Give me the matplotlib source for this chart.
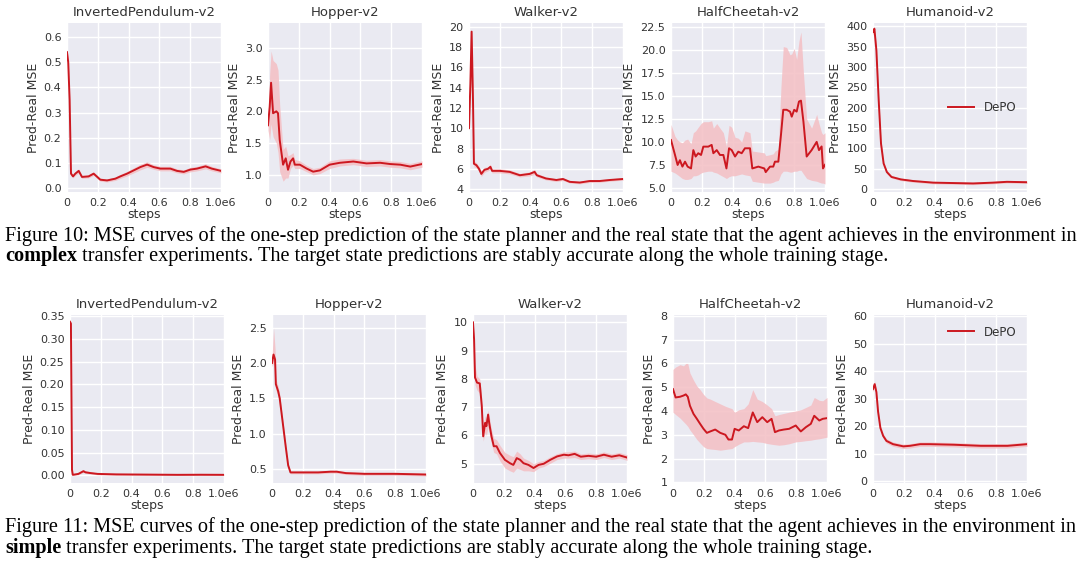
import matplotlib
matplotlib.use("Agg")
import matplotlib.pyplot as plt
from matplotlib.ticker import FormatStrFormatter

W, H = 1080, 569
DPI = 100

# ---------------- data (steps in units of 1e6) ----------------
titles = ["InvertedPendulum-v2", "Hopper-v2", "Walker-v2", "HalfCheetah-v2", "Humanoid-v2"]
x_tick_vals = [0, 0.2, 0.4, 0.6, 0.8, 1.0]
x_tick_labels = ["0", "0.2", "0.4", "0.6", "0.8", "1.0e6"]
legend_label = "DePO"

# ---- Figure 10 (complex) ----
c_ip_x = [0, .008, .017, .026, .039, .054, .076, .097, .14, .173, .216, .26, .314, .346, .39, .433, .476, .52, .563, .606, .671, .714, .758, .80, .844, .90, .94, 1.0]
c_ip_y = [.54, .50, .35, .057, .046, .057, .068, .044, .046, .057, .033, .030, .037, .046, .057, .070, .083, .093, .083, .077, .077, .068, .064, .073, .077, .086, .077, .068]
c_ip_lo = [.52, .48, .33, .050, .040, .050, .060, .038, .040, .050, .027, .024, .030, .038, .048, .060, .072, .082, .074, .068, .068, .060, .056, .064, .068, .076, .068, .060]
c_ip_hi = [.55, .52, .37, .064, .053, .064, .076, .050, .052, .064, .039, .036, .044, .054, .066, .080, .094, .104, .092, .086, .086, .076, .072, .082, .086, .096, .086, .076]

c_hop_x = [0, .011, .02, .033, .054, .065, .076, .098, .115, .13, .146, .163, .174, .207, .25, .293, .337, .40, .467, .554, .64, .728, .793, .859, .924, 1.0]
c_hop_y = [1.78, 2.07, 2.45, 1.97, 2.0, 1.97, 1.55, 1.16, 1.26, 1.08, 1.21, 1.26, 1.16, 1.16, 1.10, 1.05, 1.07, 1.16, 1.19, 1.21, 1.18, 1.19, 1.17, 1.16, 1.13, 1.17]
c_hop_lo = [1.70, 1.55, 1.80, 1.60, 1.50, 1.35, 1.05, 0.90, 0.95, 0.95, 1.10, 1.15, 1.10, 1.10, 1.05, 1.00, 1.02, 1.10, 1.14, 1.16, 1.13, 1.14, 1.12, 1.11, 1.08, 1.12]
c_hop_hi = [1.86, 2.60, 2.95, 2.80, 2.75, 2.65, 2.10, 1.40, 1.45, 1.30, 1.32, 1.35, 1.24, 1.22, 1.15, 1.10, 1.12, 1.22, 1.25, 1.26, 1.23, 1.24, 1.22, 1.21, 1.18, 1.22]

c_wal_x = [0, .009, .017, .026, .032, .048, .065, .08, .10, .123, .139, .15, .2, .264, .33, .394, .426, .44, .5, .567, .61, .654, .719, .784, .848, .913, 1.0]
c_wal_y = [10.0, 14.4, 19.5, 12.7, 6.5, 6.36, 6.0, 5.5, 5.9, 6.0, 6.2, 5.8, 5.8, 5.7, 5.37, 5.5, 5.7, 5.37, 5.05, 4.9, 5.0, 4.72, 4.65, 4.8, 4.8, 4.9, 5.0]
c_wal_lo = [9.7, 14.0, 19.1, 12.3, 6.2, 6.1, 5.75, 5.25, 5.65, 5.8, 5.95, 5.6, 5.6, 5.5, 5.2, 5.3, 5.45, 5.2, 4.9, 4.75, 4.85, 4.6, 4.52, 4.66, 4.68, 4.78, 4.88]
c_wal_hi = [10.3, 14.8, 19.8, 13.1, 6.8, 6.6, 6.25, 5.75, 6.15, 6.2, 6.45, 6.0, 6.0, 5.9, 5.55, 5.7, 5.95, 5.55, 5.2, 5.05, 5.15, 4.85, 4.78, 4.94, 4.92, 5.02, 5.12]

c_hc_x = [0, .026, .043, .058, .074, .091, .108, .13, .145, .16, .177, .195, .21, .242, .264, .275, .297, .318, .34, .36, .377, .394, .416, .437, .459, .48, .513, .528, .567, .606, .615, .643, .664, .675, .697, .714, .729, .751, .773, .784, .80, .816, .831, .844, .86, .881, .913, .946, .961, .978, .987, 1.0]
c_hc_y = [10.2, 8.57, 7.48, 8.0, 7.3, 7.84, 7.3, 7.1, 9.1, 8.4, 8.76, 8.57, 9.48, 9.48, 9.67, 8.76, 9.1, 8.57, 8.57, 7.1, 9.3, 9.1, 8.4, 8.93, 8.76, 9.3, 9.3, 7.1, 7.3, 7.1, 6.7, 7.3, 7.3, 7.84, 7.84, 10.75, 13.5, 13.5, 13.3, 12.75, 13.5, 13.3, 14.4, 14.5, 12.2, 8.4, 9.1, 10.0, 9.1, 9.5, 7.1, 7.5]
c_hc_lo = [6.8, 6.6, 6.4, 6.2, 6.0, 5.9, 5.9, 6.0, 6.3, 6.3, 6.4, 6.6, 6.7, 6.8, 6.8, 6.7, 6.6, 6.4, 6.2, 6.0, 6.2, 6.3, 6.3, 6.4, 6.5, 6.4, 6.3, 5.7, 5.6, 5.5, 5.5, 5.5, 5.6, 5.7, 5.8, 6.5, 6.8, 6.8, 6.7, 6.7, 6.8, 6.8, 6.9, 6.9, 6.5, 6.0, 5.8, 5.7, 5.6, 5.5, 5.5, 5.4]
c_hc_hi = [11.9, 10.6, 10.2, 10.0, 9.9, 10.2, 10.3, 9.8, 11.0, 11.2, 11.6, 12.0, 12.2, 12.2, 12.3, 11.5, 12.0, 11.5, 11.0, 9.5, 11.8, 11.6, 10.5, 10.4, 10.0, 11.2, 11.0, 9.0, 8.9, 8.8, 8.5, 8.6, 8.7, 9.0, 9.2, 16.0, 20.4, 20.3, 19.5, 19.6, 20.2, 19.0, 21.0, 22.0, 17.5, 12.5, 11.5, 13.0, 12.0, 11.0, 10.8, 11.0]

c_hum_x = [0, .009, .022, .037, .052, .069, .09, .12, .18, .26, .39, .52, .65, .78, .87, 1.0]
c_hum_y = [386, 394, 341, 218, 112, 63, 42, 30, 24, 20, 16, 15, 14, 16, 18, 17]
c_hum_lo = [378, 386, 332, 210, 106, 58, 38, 27, 21, 17, 13, 12, 11, 13, 15, 14]
c_hum_hi = [392, 400, 350, 226, 118, 68, 46, 33, 27, 23, 19, 18, 17, 19, 21, 20]

# ---- Figure 11 (simple) ----
s_ip_x = [0, .006, .013, .018, .054, .087, .10, .13, .18, .3, .5, .7, .85, 1.0]
s_ip_y = [.338, .334, .012, .001, .003, .009, .0066, .005, .003, .002, .0015, .001, .0012, .001]
s_ip_lo = [.332, .328, .008, .000, .001, .006, .004, .003, .001, .000, .000, .000, .000, .000]
s_ip_hi = [.342, .338, .018, .003, .005, .013, .010, .008, .005, .004, .003, .003, .003, .003]

s_hop_x = [0, .01, .02, .025, .04, .05, .07, .09, .105, .12, .2, .3, .38, .42, .48, .6, .8, 1.0]
s_hop_y = [2.0, 2.12, 2.05, 1.7, 1.6, 1.5, 1.15, 0.8, 0.55, 0.45, 0.45, 0.45, 0.46, 0.46, 0.44, 0.43, 0.43, 0.42]
s_hop_lo = [1.95, 2.0, 1.95, 1.62, 1.53, 1.44, 1.1, 0.76, 0.52, 0.43, 0.43, 0.43, 0.44, 0.44, 0.42, 0.41, 0.41, 0.40]
s_hop_hi = [2.05, 2.5, 2.2, 1.78, 1.67, 1.56, 1.2, 0.84, 0.58, 0.47, 0.47, 0.47, 0.48, 0.48, 0.46, 0.45, 0.45, 0.44]

s_wal_x = [0, .007, .013, .026, .044, .057, .066, .079, .087, .098, .105, .12, .135, .153, .175, .207, .24, .262, .284, .306, .328, .36, .393, .426, .459, .502, .546, .59, .62, .66, .7, .75, .8, .85, .9, .95, 1.0]
s_wal_y = [10.0, 9.4, 8.05, 7.87, 7.84, 7.04, 5.97, 6.45, 6.33, 6.74, 6.45, 5.97, 5.62, 5.62, 5.38, 5.14, 5.02, 4.96, 5.2, 5.14, 5.02, 4.96, 4.85, 4.96, 5.0, 5.14, 5.26, 5.32, 5.3, 5.35, 5.25, 5.28, 5.25, 5.32, 5.25, 5.3, 5.22]
s_wal_lo = [9.9, 9.0, 7.8, 7.6, 7.5, 6.7, 5.8, 6.1, 6.0, 6.3, 6.1, 5.7, 5.4, 5.35, 5.1, 4.85, 4.75, 4.7, 4.85, 4.8, 4.75, 4.75, 4.72, 4.85, 4.9, 5.02, 5.15, 5.2, 5.2, 5.22, 5.15, 5.18, 5.15, 5.22, 5.15, 5.2, 5.12]
s_wal_hi = [10.05, 9.6, 8.5, 8.1, 8.0, 7.3, 6.3, 6.7, 6.6, 6.9, 6.7, 6.2, 5.9, 5.85, 5.65, 5.4, 5.3, 5.25, 5.45, 5.35, 5.2, 5.12, 5.0, 5.08, 5.12, 5.25, 5.36, 5.42, 5.42, 5.45, 5.35, 5.38, 5.35, 5.42, 5.35, 5.4, 5.32]

s_hc_x = [0, .017, .046, .068, .083, .096, .11, .133, .155, .176, .198, .22, .242, .274, .307, .34, .36, .383, .40, .427, .46, .488, .518, .547, .58, .612, .64, .662, .688, .72, .754, .797, .83, .863, .895, .917, .95, .972, 1.0]
s_hc_y = [4.92, 4.57, 4.6, 4.65, 4.7, 4.6, 4.22, 3.88, 3.67, 3.46, 3.25, 3.08, 3.14, 3.22, 3.08, 3.0, 2.8, 2.8, 3.25, 3.18, 3.36, 3.28, 3.94, 3.53, 3.74, 3.53, 3.67, 3.11, 3.18, 3.22, 3.25, 3.39, 3.14, 3.32, 3.46, 3.8, 3.6, 3.67, 3.7]
s_hc_lo = [3.95, 3.85, 3.7, 3.55, 3.45, 3.35, 3.2, 3.0, 2.8, 2.65, 2.5, 2.42, 2.4, 2.38, 2.35, 2.38, 2.4, 2.42, 2.5, 2.6, 2.7, 2.7, 2.72, 2.7, 2.68, 2.63, 2.6, 2.58, 2.56, 2.58, 2.62, 2.7, 2.72, 2.75, 2.77, 2.8, 2.83, 2.86, 2.9]
s_hc_hi = [5.75, 5.85, 5.95, 5.9, 6.0, 6.0, 5.6, 5.3, 5.05, 4.9, 4.7, 4.55, 4.5, 4.4, 4.3, 4.2, 4.15, 4.1, 3.95, 4.05, 4.1, 4.3, 4.9, 4.5, 4.4, 4.25, 4.1, 3.8, 3.85, 3.9, 3.95, 4.0, 4.05, 4.15, 4.25, 4.57, 4.45, 4.43, 4.57]

s_hum_x = [0, .011, .022, .033, .048, .066, .087, .13, .197, .24, .306, .37, .524, .7, .873, 1.0]
s_hum_y = [33.5, 35.3, 32.4, 25.3, 19.4, 16.5, 14.7, 13.5, 12.7, 12.9, 13.5, 13.5, 13.3, 12.9, 12.9, 13.5]
s_hum_lo = [32.5, 34.3, 31.4, 24.4, 18.6, 15.7, 13.9, 12.7, 11.9, 12.1, 12.7, 12.7, 12.5, 12.1, 12.1, 12.7]
s_hum_hi = [34.5, 36.3, 33.4, 26.2, 20.2, 17.3, 15.5, 14.3, 13.5, 13.7, 14.3, 14.3, 14.1, 13.7, 13.7, 14.3]

complex_series = [(c_ip_x, c_ip_y, c_ip_lo, c_ip_hi), (c_hop_x, c_hop_y, c_hop_lo, c_hop_hi),
                  (c_wal_x, c_wal_y, c_wal_lo, c_wal_hi), (c_hc_x, c_hc_y, c_hc_lo, c_hc_hi),
                  (c_hum_x, c_hum_y, c_hum_lo, c_hum_hi)]
simple_series = [(s_ip_x, s_ip_y, s_ip_lo, s_ip_hi), (s_hop_x, s_hop_y, s_hop_lo, s_hop_hi),
                 (s_wal_x, s_wal_y, s_wal_lo, s_wal_hi), (s_hc_x, s_hc_y, s_hc_lo, s_hc_hi),
                 (s_hum_x, s_hum_y, s_hum_lo, s_hum_hi)]

complex_yticks = [[0, .1, .2, .3, .4, .5, .6], [1.0, 1.5, 2.0, 2.5, 3.0], [4, 6, 8, 10, 12, 14, 16, 18, 20],
                  [5, 7.5, 10, 12.5, 15, 17.5, 20, 22.5], [0, 50, 100, 150, 200, 250, 300, 350, 400]]
simple_yticks = [[0, .05, .1, .15, .2, .25, .3, .35], [0.5, 1.0, 1.5, 2.0, 2.5], [5, 6, 7, 8, 9, 10],
                 [1, 2, 3, 4, 5, 6, 7, 8], [0, 10, 20, 30, 40, 50, 60]]

caption10_l1 = "Figure 10: MSE curves of the one-step prediction of the state planner and the real state that the agent achieves in the environment in"
caption10_bold = "complex"
caption10_l2 = " transfer experiments. The target state predictions are stably accurate along the whole training stage."
caption11_l1 = "Figure 11: MSE curves of the one-step prediction of the state planner and the real state that the agent achieves in the environment in"
caption11_bold = "simple"
caption11_l2 = " transfer experiments. The target state predictions are stably accurate along the whole training stage."

# ---------------- layout / style ----------------
complex_ylim = [(-0.016, 0.656), (0.73, 3.39), (3.72, 20.35), (4.53, 22.97), (-7, 408)]
simple_ylim = [(-0.017, 0.353), (0.3, 2.68), (4.32, 10.26), (0.97, 8.04), (-0.6, 60.4)]
complex_fmt = ["%.1f", "%.1f", "%d", "%.1f", "%d"]
simple_fmt = ["%.2f", "%.1f", "%d", "%d", "%d"]

row1_left = [67, 268, 469, 671, 873]
row2_left = [70, 272, 473, 673, 873]
ax_w = 154
row1_top, row1_bot = 23, 192
row2_top, row2_bot = 315, 483

LINE = "#cc1820"
BAND = "#f4bfc4"
BG = "#eaeaf2"
TXT = "#333333"

plt.rcParams["font.family"] = ["DejaVu Sans"]
fig = plt.figure(figsize=(W / DPI, H / DPI), dpi=DPI)
fig.patch.set_facecolor("white")


def make_ax(left, top, bot):
    return fig.add_axes([left / W, 1 - bot / H, ax_w / W, (bot - top) / H])


def draw_row(lefts, top, bot, series, yticks, ylims, fmts, legend_loc):
    for i, (sx, sy, slo, shi) in enumerate(series):
        ax = make_ax(lefts[i], top, bot)
        ax.set_facecolor(BG)
        ax.grid(True, color="white", linewidth=1.0)
        ax.set_axisbelow(True)
        for sp in ax.spines.values():
            sp.set_visible(False)
        ax.fill_between(sx, slo, shi, color=BAND, alpha=0.85, linewidth=0)
        ax.plot(sx, sy, color=LINE, linewidth=1.4, label=legend_label)
        ax.set_xlim(0, 1.0)
        ax.set_ylim(*ylims[i])
        ax.set_xticks(x_tick_vals)
        ax.set_xticklabels(x_tick_labels)
        ax.set_yticks(yticks[i])
        ax.yaxis.set_major_formatter(FormatStrFormatter(fmts[i]))
        ax.tick_params(length=0, labelsize=8, colors=TXT, pad=4)
        ax.set_title(titles[i], fontsize=9.5, color=TXT, pad=5)
        ax.set_xlabel("steps", fontsize=9, color=TXT, labelpad=0)
        ax.set_ylabel("Pred-Real MSE", fontsize=9, color=TXT, labelpad=3)
        if i == 4:
            ax.legend(loc=legend_loc, frameon=False, fontsize=8.5, handlelength=2.2,
                      labelcolor=TXT)


draw_row(row1_left, row1_top, row1_bot, complex_series, complex_yticks, complex_ylim, complex_fmt, "center right")
draw_row(row2_left, row2_top, row2_bot, simple_series, simple_yticks, simple_ylim, simple_fmt, "upper right")

# ---------------- captions ----------------
renderer = fig.canvas.get_renderer()
SERIF = ["Liberation Serif", "DejaVu Serif"]
probe = fig.text(0, 0, caption10_l1, fontsize=10, family=SERIF)
w10 = probe.get_window_extent(renderer).width
probe.remove()
cap_size = 10 * (1071 / w10)


def caption(y1, y2, l1, bold, l2):
    fig.text(5 / W, 1 - y1 / H, l1, fontsize=cap_size, family=SERIF, va="center", ha="left", color="black")
    tb = fig.text(5 / W, 1 - y2 / H, bold, fontsize=cap_size, family=SERIF, weight="bold",
                  va="center", ha="left", color="black")
    bw = tb.get_window_extent(renderer).width
    fig.text((5 + bw) / W, 1 - y2 / H, l2, fontsize=cap_size, family=SERIF, va="center", ha="left", color="black")


caption(236, 256, caption10_l1, caption10_bold, caption10_l2)
caption(527, 548, caption11_l1, caption11_bold, caption11_l2)

fig.savefig("out.png", dpi=DPI, facecolor="white")
